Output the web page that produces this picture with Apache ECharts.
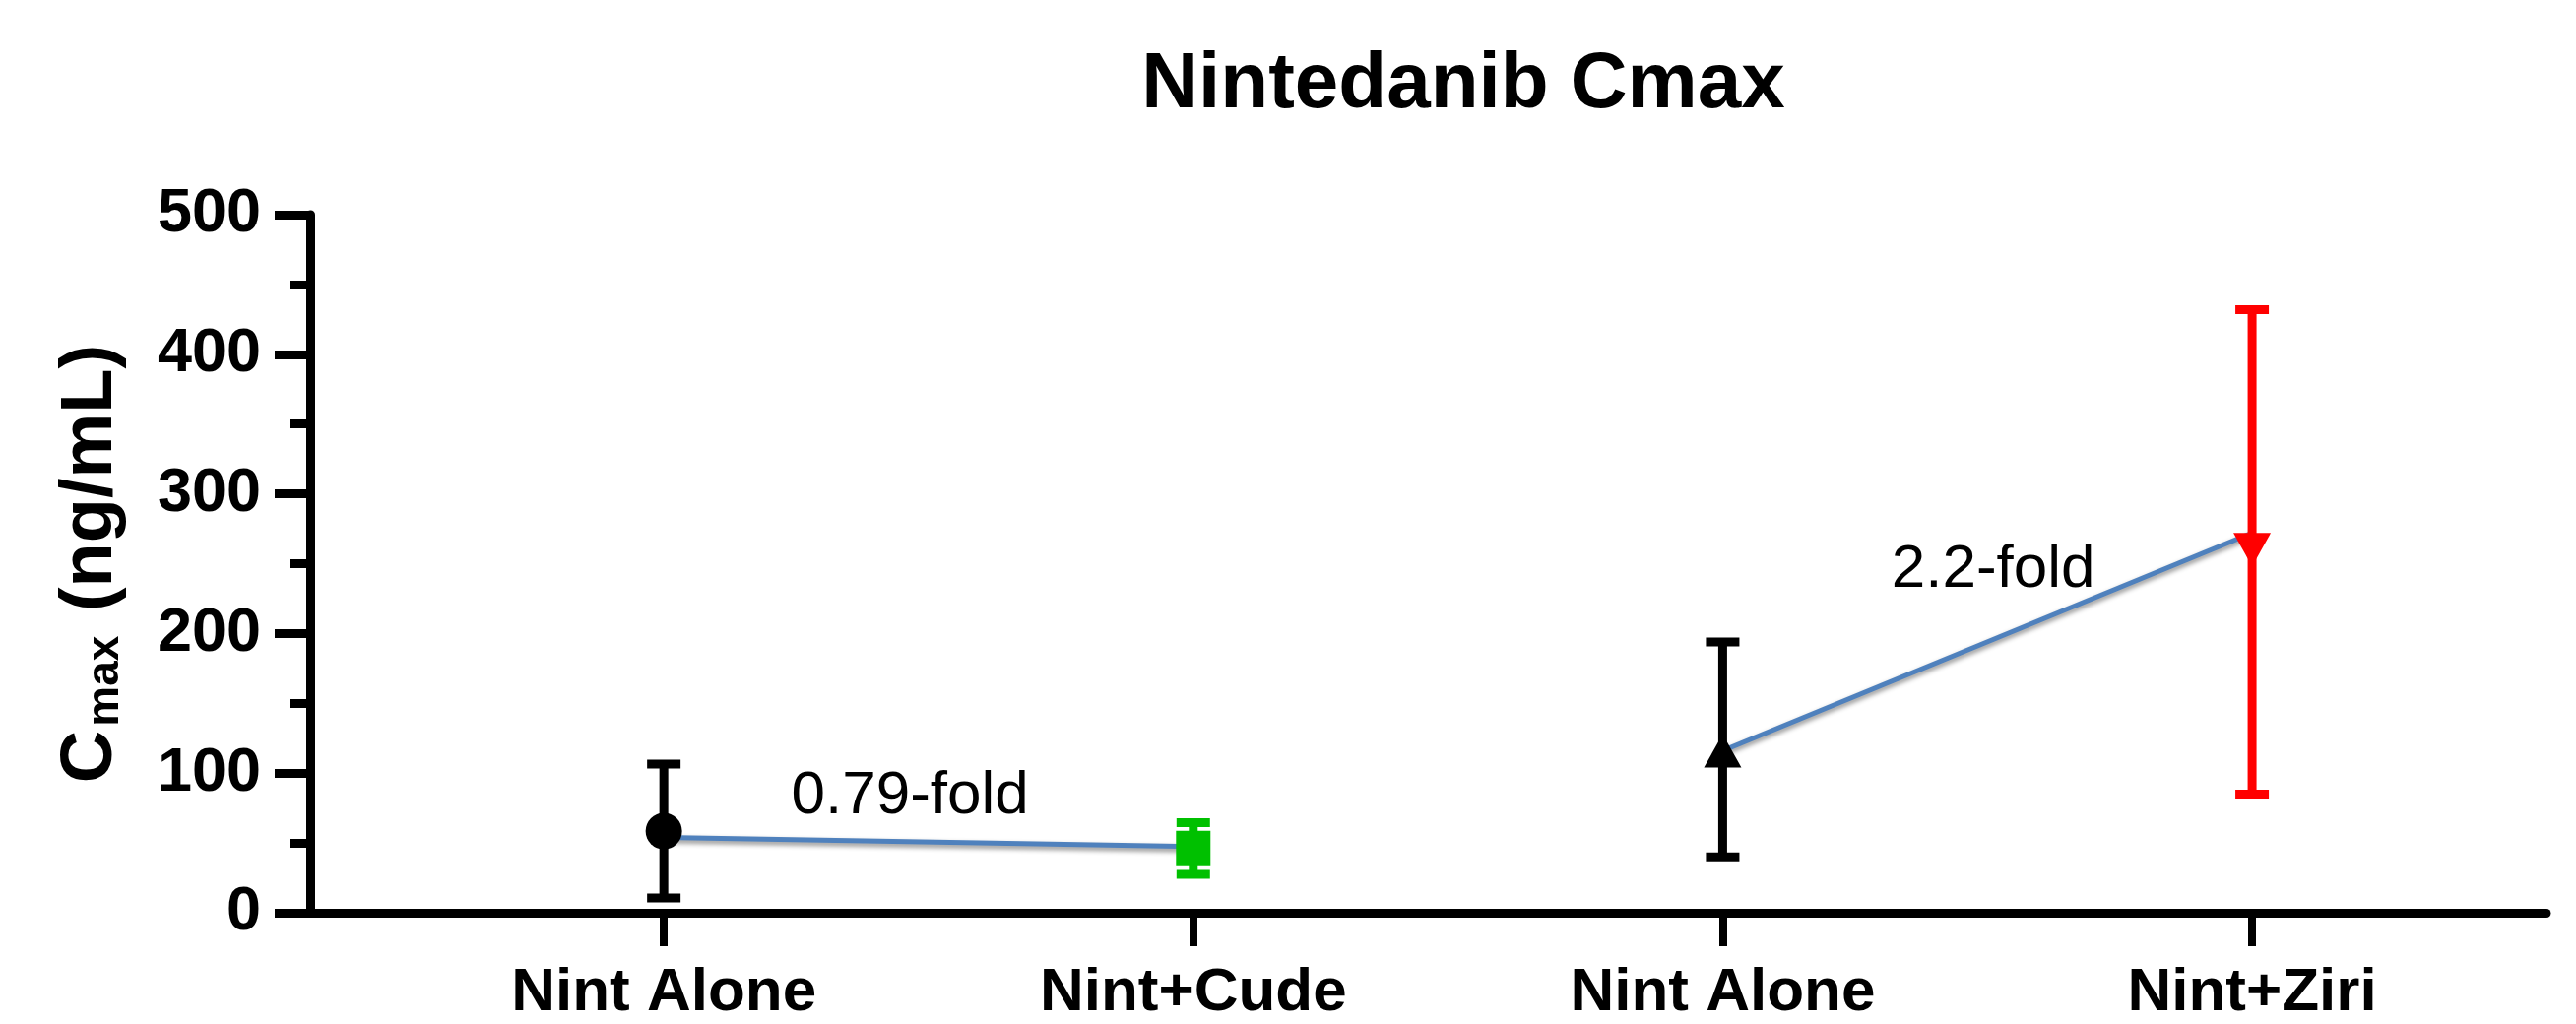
<!DOCTYPE html>
<html>
<head>
<meta charset="utf-8">
<script src="https://cdn.jsdelivr.net/npm/echarts@6/dist/echarts.min.js"></script>
<style>
html,body{margin:0;padding:0;background:#fff;}
#chart{width:2616px;height:1040px;}
</style>
</head>
<body>
<div id="chart"></div>
<script>
// ---- data ----
const categories = ['Nint Alone', 'Nint+Cude', 'Nint Alone', 'Nint+Ziri'];
const means      = [58.5, 46, 116, 260];
const lowerBars  = [10.5, 27.5, 40, 85];
const upperBars  = [106.5, 64.5, 194, 432];
const foldLine1  = [54, 47.5];   // Nint Alone -> Nint+Cude
const foldLine2  = [116, 272];   // Nint Alone -> Nint+Ziri
const foldLabels = ['0.79-fold', '2.2-fold'];
const foldLabelPos = [[1.465, 83.6], [3.511, 245.8]];
const yTicks = [0, 100, 200, 300, 400, 500];

// ---- styles ----
const pointColors = ['#000000', '#00c000', '#000000', '#ff0000'];
const pointSymbols = ['circle', 'rect', 'triangle', 'triangle'];
const pointRotate = [0, 0, 0, 180];
const pointSizes = [[37, 37], [35, 36], [38, 34], [38, 34]];
const FONT = '"Liberation Sans", Arial, sans-serif';

const xs = categories.map((c, i) => i + 1);

const chart = echarts.init(document.getElementById('chart'), null, {renderer: 'canvas'});

const option = {
  backgroundColor: '#ffffff',
  animation: false,
  title: {
    text: 'Nintedanib Cmax',
    left: 1481,
    top: 42,
    textAlign: 'center',
    textStyle: {fontFamily: FONT, fontWeight: 'bold', fontSize: 80, color: '#000'}
  },
  grid: {left: 315, right: 30, top: 218, bottom: 110, containLabel: false},
  xAxis: {
    type: 'value',
    min: 0.332,
    max: 4.556,
    splitLine: {show: false},
    axisLine: {show: true, lineStyle: {color: '#000', width: 9}},
    axisTick: {show: true, customValues: xs, length: 34, lineStyle: {color: '#000', width: 8}},
    axisLabel: {
      show: true,
      customValues: xs,
      margin: 51,
      formatter: v => categories[Math.round(v) - 1] || '',
      fontFamily: FONT, fontWeight: 'bold', fontSize: 62, color: '#000'
    }
  },
  yAxis: {
    type: 'value',
    min: yTicks[0],
    max: yTicks[yTicks.length - 1],
    interval: 100,
    splitLine: {show: false},
    axisLine: {show: true, lineStyle: {color: '#000', width: 9}},
    axisTick: {show: true, inside: false, length: 36, lineStyle: {color: '#000', width: 9}},
    minorTick: {show: true, splitNumber: 2, length: 20, lineStyle: {color: '#000', width: 9}},
    axisLabel: {
      margin: 50,
      fontFamily: FONT, fontWeight: 'bold', fontSize: 63, color: '#000'
    },
    name: '{a|C}{b|max}{a| (ng/mL)}',
    nameLocation: 'middle',
    nameGap: 185,
    nameRotate: 90,
    nameTextStyle: {
      rich: {
        a: {fontFamily: FONT, fontWeight: 'bold', fontSize: 74, lineHeight: 74, color: '#000', verticalAlign: 'middle'},
        b: {fontFamily: FONT, fontWeight: 'bold', fontSize: 46, lineHeight: 46, color: '#000', verticalAlign: 'bottom', padding: [0, 4, 0, 4]}
      },
      lineHeight: 96
    }
  },
  series: [
    {
      type: 'line',
      data: [[xs[0], foldLine1[0]], [xs[1], foldLine1[1]]],
      symbol: 'none',
      z: 1,
      lineStyle: {color: '#4f81bd', width: 5, shadowColor: 'rgba(0,0,0,0.45)', shadowBlur: 5, shadowOffsetY: 3}
    },
    {
      type: 'line',
      data: [[xs[2], foldLine2[0]], [xs[3], foldLine2[1]]],
      symbol: 'none',
      z: 1,
      lineStyle: {color: '#4f81bd', width: 5, shadowColor: 'rgba(0,0,0,0.45)', shadowBlur: 5, shadowOffsetY: 3}
    },
    {
      type: 'custom',
      z: 2,
      data: xs.map((x, i) => [x, lowerBars[i], upperBars[i], i]),
      renderItem: function (params, api) {
        const x = api.value(0);
        const lo = api.coord([x, api.value(1)]);
        const hi = api.coord([x, api.value(2)]);
        const idx = api.value(3);
        const hw = 17;
        const style = {stroke: pointColors[idx], lineWidth: 9, fill: null};
        return {
          type: 'group',
          children: [
            {type: 'line', shape: {x1: lo[0], y1: lo[1], x2: hi[0], y2: hi[1]}, style: style},
            {type: 'line', shape: {x1: hi[0] - hw, y1: hi[1], x2: hi[0] + hw, y2: hi[1]}, style: style},
            {type: 'line', shape: {x1: lo[0] - hw, y1: lo[1], x2: lo[0] + hw, y2: lo[1]}, style: style}
          ]
        };
      }
    },
    {
      type: 'scatter',
      z: 3,
      data: xs.map((x, i) => ({
        value: [x, means[i]],
        symbol: pointSymbols[i],
        symbolSize: pointSizes[i],
        symbolRotate: pointRotate[i],
        itemStyle: {color: pointColors[i], opacity: 1}
      }))
    },
    {
      type: 'scatter',
      z: 4,
      symbolSize: 0,
      itemStyle: {opacity: 1},
      data: foldLabelPos.map((p, i) => [p[0], p[1], foldLabels[i]]),
      label: {
        show: true,
        position: 'inside',
        formatter: p => p.value[2],
        fontFamily: FONT, fontSize: 62, color: '#000', opacity: 1
      }
    }
  ]
};

chart.setOption(option);
</script>
</body>
</html>
